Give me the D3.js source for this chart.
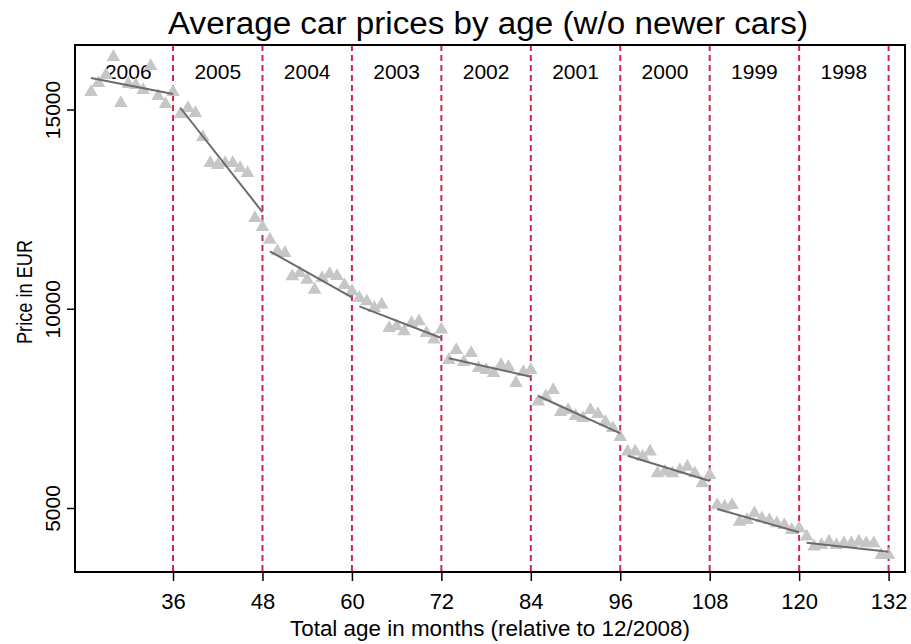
<!DOCTYPE html>
<html>
<head>
<meta charset="utf-8">
<script src="https://cdn.jsdelivr.net/npm/d3@7"></script>
<style>
  html, body { margin: 0; padding: 0; background: #fff; }
  text { font-family: "Liberation Sans", Arial, Helvetica, sans-serif; fill: #000; }
</style>
</head>
<body>
<svg id="chart" width="911" height="644"></svg>
<script>
// ---- data ----
const years = ["2006", "2005", "2004", "2003", "2002", "2001", "2000", "1999", "1998"];
const yearStartMonth = [25, 37, 49, 61, 73, 85, 97, 109, 121];
const yearEndMonth = [36, 48, 60, 72, 84, 96, 108, 120, 132];
const yearLabelMonth = [30, 42, 54, 66, 78, 90, 102, 114, 126];
const boundaryMonths = [36, 48, 60, 72, 84, 96, 108, 120, 132];
const xTickValues = [36, 48, 60, 72, 84, 96, 108, 120, 132];
const yTickValues = [5000, 10000, 15000];

const prices2006 = [15439, 15665, 15866, 16317, 15163, 15640, 15615, 15490, 16092, 15339, 15138, 15439];
const prices2005 = [14887, 15038, 14912, 14310, 13657, 13607, 13657, 13657, 13532, 13406, 12277, 12051];
const prices2004 = [11733, 11441, 11399, 10814, 10897, 10729, 10478, 10772, 10872, 10822, 10596, 10438];
const prices2003 = [10270, 10187, 10019, 10102, 9517, 9558, 9434, 9642, 9685, 9391, 9224, 9475];
const prices2002 = [8714, 8965, 8664, 8890, 8513, 8463, 8388, 8589, 8538, 8137, 8413, 8463];
const prices2001 = [7668, 7793, 7961, 7409, 7459, 7309, 7258, 7459, 7359, 7158, 7008, 6782];
const prices2000 = [6413, 6413, 6287, 6413, 5871, 5911, 5871, 5954, 6036, 5871, 5620, 5828];
const prices1999 = [5075, 5033, 5075, 4656, 4699, 4867, 4742, 4699, 4616, 4573, 4448, 4491];
const prices1998 = [4280, 4029, 4072, 4154, 4072, 4114, 4114, 4154, 4114, 4114, 3821, 3821];

const fitStart = [15790, 15038, 11442, 10061, 8757, 7811, 6313, 4975, 4129];
const fitEnd = [15389, 12428, 10287, 9266, 8295, 6874, 5678, 4390, 3903];

const title = "Average car prices by age (w/o newer cars)";
const xTitle = "Total age in months (relative to 12/2008)";
const yTitle = "Price in EUR";

// ---- build ----
const priceSets = [prices2006, prices2005, prices2004, prices2003, prices2002, prices2001, prices2000, prices1999, prices1998];
const points = [];
priceSets.forEach((arr, i) => arr.forEach((v, j) => points.push({ month: yearStartMonth[i] + j, price: v })));
const fits = years.map((y, i) => ({ x1: yearStartMonth[i], y1: fitStart[i], x2: yearEndMonth[i], y2: fitEnd[i] }));

const svg = d3.select("#chart");
const L = 75, R = 905, T = 45, B = 572;

const x = d3.scaleLinear().domain([22.85, 134.2]).range([L, R]);
const y = d3.scaleLinear().domain([3394, 16619]).range([B, T]);

// title
svg.append("text")
  .attr("x", 488).attr("y", 34)
  .attr("text-anchor", "middle")
  .attr("font-size", 31)
  .attr("textLength", 640)
  .attr("lengthAdjust", "spacingAndGlyphs")
  .text(title);

// dashed boundaries
svg.append("g").selectAll("line").data(boundaryMonths).join("line")
  .attr("x1", d => x(d)).attr("x2", d => x(d))
  .attr("y1", T).attr("y2", B)
  .attr("stroke", "#d1264b").attr("stroke-width", 2)
  .attr("stroke-dasharray", "6,4");

// year labels
svg.append("g").selectAll("text").data(years).join("text")
  .attr("x", (d, i) => x(yearLabelMonth[i]))
  .attr("y", 79)
  .attr("text-anchor", "middle")
  .attr("font-size", 21)
  .text(d => d);

// points
const tri = d3.symbol().type(d3.symbolTriangle).size(80);
svg.append("g").selectAll("path").data(points).join("path")
  .attr("d", tri)
  .attr("transform", d => `translate(${x(d.month)},${y(d.price)})`)
  .attr("fill", "#c6c6c6");

// fit lines
svg.append("g").selectAll("line").data(fits).join("line")
  .attr("x1", d => x(d.x1)).attr("y1", d => y(d.y1))
  .attr("x2", d => x(d.x2)).attr("y2", d => y(d.y2))
  .attr("stroke", "#6b6b6b").attr("stroke-width", 2);

// frame
svg.append("rect")
  .attr("x", L).attr("y", T).attr("width", R - L).attr("height", B - T)
  .attr("fill", "none").attr("stroke", "#000").attr("stroke-width", 2);

// x axis
const xAxis = d3.axisBottom(x).tickValues(xTickValues).tickSize(9).tickPadding(12).tickFormat(d3.format("d"));
const gx = svg.append("g").attr("transform", `translate(0,${B})`).call(xAxis);
gx.select(".domain").remove();
gx.selectAll("line").attr("stroke", "#000").attr("stroke-width", 1.5);
gx.selectAll("text").attr("font-size", 22).attr("font-family", "Liberation Sans, Arial, sans-serif").attr("fill", "#000");

// y axis
const yAxis = d3.axisLeft(y).tickValues(yTickValues).tickSize(8).tickPadding(4).tickFormat(d3.format("d"));
const gy = svg.append("g").attr("transform", `translate(${L},0)`).call(yAxis);
gy.select(".domain").remove();
gy.selectAll("line").attr("stroke", "#000").attr("stroke-width", 1.5);
gy.selectAll("text")
  .attr("font-size", 21).attr("font-family", "Liberation Sans, Arial, sans-serif").attr("fill", "#000")
  .attr("x", null).attr("dy", null)
  .attr("text-anchor", "middle")
  .attr("transform", "translate(-15,0) rotate(-90)")
  .attr("y", 0);

// axis titles
svg.append("text")
  .attr("x", 490).attr("y", 636)
  .attr("text-anchor", "middle")
  .attr("font-size", 22)
  .attr("textLength", 400)
  .attr("lengthAdjust", "spacingAndGlyphs")
  .text(xTitle);

svg.append("text")
  .attr("transform", `translate(32,292) rotate(-90)`)
  .attr("text-anchor", "middle")
  .attr("font-size", 22)
  .attr("textLength", 104)
  .attr("lengthAdjust", "spacingAndGlyphs")
  .text(yTitle);
</script>
</body>
</html>
